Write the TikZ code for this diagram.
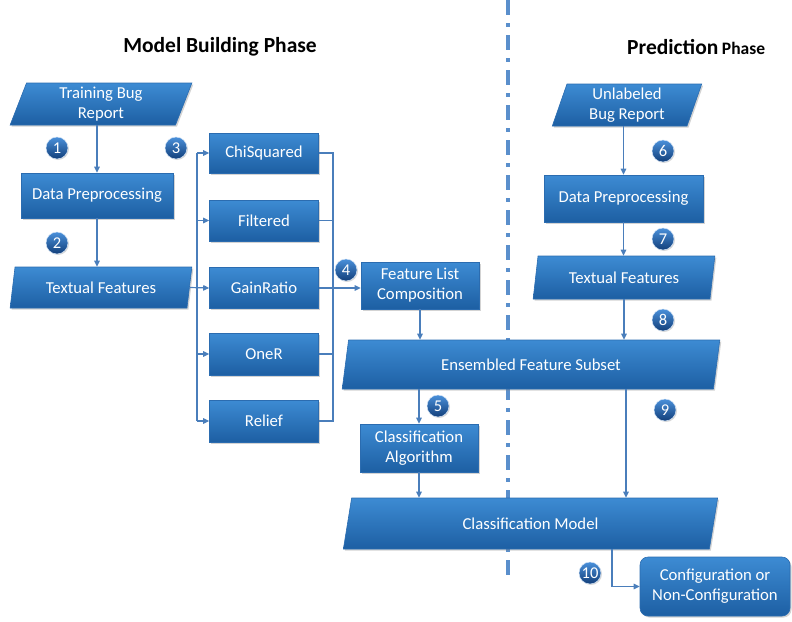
\documentclass[tikz,border=0pt]{standalone}
\usepackage{fontspec}
\setmainfont{Carlito}
\usetikzlibrary{shapes.geometric,shadows,arrows.meta,calc}
\definecolor{boxtop}{HTML}{3D8BD3}
\definecolor{boxbot}{HTML}{1D5FA3}
\definecolor{edgec}{HTML}{2B6CB0}
\definecolor{conn}{HTML}{4A7EBB}
\definecolor{sepc}{HTML}{5A8FCC}
\definecolor{badgetop}{HTML}{4A90DA}
\definecolor{badgebot}{HTML}{123F7A}
\tikzset{
  base/.style={draw=edgec, line width=0.6pt, top color=boxtop, bottom color=boxbot,
    text=white, font=\fontsize{16.7}{20}\selectfont, align=center, inner sep=0pt,
    drop shadow={opacity=0.35,shadow xshift=1.5pt,shadow yshift=-1.5pt}},
  rbox/.style={base, rectangle},
  para/.style={base, trapezium, trapezium left angle=75, trapezium right angle=105,
    trapezium stretches=true},
  badge/.style={circle, top color=badgetop, bottom color=badgebot, draw=white!75!badgetop,
    line width=0.5pt, text=white, minimum size=22pt, inner sep=0pt,
    font=\fontsize{16.5}{16.5}\selectfont,
    drop shadow={opacity=0.3,shadow xshift=1pt,shadow yshift=-1pt}},
  conn/.style={draw=conn, line width=1.2pt},
  arr/.style={conn, -{Triangle[length=6pt,width=5.5pt]}},
  title/.style={font=\bfseries\fontsize{21.5}{24}\selectfont, text=black}
}
\begin{document}
\begin{tikzpicture}[x=1pt,y=-1pt]
\useasboundingbox (0,0) rectangle (792,621);
% separator
\draw[sepc, line width=3.5pt, dash pattern=on 15pt off 8pt on 4pt off 8pt] (508,0) -- (508,575);
% titles
\node[title] (t1) at (220,47) {Model Building Phase};
\node[font=\bfseries, text=black, anchor=base west, inner sep=0pt] (t2) at (627,54)
  {\fontsize{21.5}{24}\selectfont Prediction\,\fontsize{17.5}{18}\selectfont Phase};
% left column
\node[para, minimum width=182pt, minimum height=42pt] (tbr) at (101,104) {Training Bug\\Report};
\node[rbox, minimum width=152pt, minimum height=45pt] (dp1) at (97,195.5) {Data Preprocessing};
\node[para, minimum width=182pt, minimum height=41pt] (tf1) at (101,287.5) {Textual Features};
% selectors
\node[rbox, minimum width=109pt, minimum height=40pt] (chi) at (264,153) {ChiSquared};
\node[rbox, minimum width=109pt, minimum height=41pt] (fil) at (264,220.5) {Filtered};
\node[rbox, minimum width=109pt, minimum height=41pt] (gr) at (264,288) {GainRatio};
\node[rbox, minimum width=109pt, minimum height=42pt] (one) at (264,354) {OneR};
\node[rbox, minimum width=109pt, minimum height=42pt] (rel) at (264,421) {Relief};
\node[rbox, minimum width=118pt, minimum height=47pt] (flc) at (420,285.5) {Feature List\\Composition};
\node[para, minimum width=378pt, minimum height=49pt] (ens) at (531,364.5) {Ensembled Feature Subset};
\node[rbox, minimum width=118pt, minimum height=48pt] (ca) at (419,448) {Classification\\Algorithm};
\node[para, minimum width=375pt, minimum height=51pt] (cm) at (530.5,523.5) {Classification Model};
\node[rbox, rounded corners=8pt, minimum width=150pt, minimum height=59pt] (cfg) at (715,586.5) {Configuration or\\Non-Configuration};
% right column
\node[para, minimum width=150pt, minimum height=42pt] (ubr) at (627,105) {Unlabeled\\Bug Report};
\node[rbox, minimum width=159pt, minimum height=47pt] (dp2) at (623.5,198.5) {Data Preprocessing};
\node[para, minimum width=182pt, minimum height=43pt] (tf2) at (624,277.5) {Textual Features};
% helper coordinates
\coordinate (lbx) at (197,0);
\coordinate (rbx) at (333,0);
\coordinate (c9) at (626,0);
\coordinate (c10) at (612,0);
% connectors left
\draw[arr] (tbr.south -| dp1.north) -- (dp1.north);
\draw[arr] (dp1.south) -- (dp1.south |- tf1.north);
\draw[arr] (tf1.east) -- (gr.west);
\draw[conn] (chi.west -| lbx) -- (rel.west -| lbx);
\draw[arr] (chi.west -| lbx) -- (chi.west);
\draw[arr] (fil.west -| lbx) -- (fil.west);
\draw[arr] (one.west -| lbx) -- (one.west);
\draw[arr] (rel.west -| lbx) -- (rel.west);
\draw[conn] (chi.east) -- (chi.east -| rbx) -- (rel.east -| rbx) -- (rel.east);
\draw[conn] (fil.east) -- (fil.east -| rbx);
\draw[conn] (gr.east) -- (gr.east -| rbx);
\draw[conn] (one.east) -- (one.east -| rbx);
\draw[arr] (gr.east -| rbx) -- (gr.east -| flc.west);
\draw[arr] (flc.south) -- (flc.south |- ens.north);
\draw[arr] (ca.north |- ens.south) -- (ca.north);
\draw[arr] (ca.south) -- (ca.south |- cm.north);
% connectors right
\draw[arr] (dp2.north |- ubr.south) -- (dp2.north);
\draw[arr] (dp2.south) -- (dp2.south |- tf2.north);
\draw[arr] (tf2.south) -- (tf2.south |- ens.north);
\draw[arr] (c9 |- ens.south) -- (c9 |- cm.north);
\draw[arr] (c10 |- cm.south) |- (cfg.west);
% badges
\node[badge] (b1) at (57,148) {1};
\node[badge] (b2) at (57,243) {2};
\node[badge] (b3) at (176,148) {3};
\node[badge] (b4) at (346,270) {4};
\node[badge] (b5) at (438,406) {5};
\node[badge] (b6) at (663,151) {6};
\node[badge] (b7) at (663,239) {7};
\node[badge] (b8) at (663,320) {8};
\node[badge] (b9) at (665,410) {9};
\node[badge] (b10) at (590,573) {10};
\end{tikzpicture}
\end{document}
